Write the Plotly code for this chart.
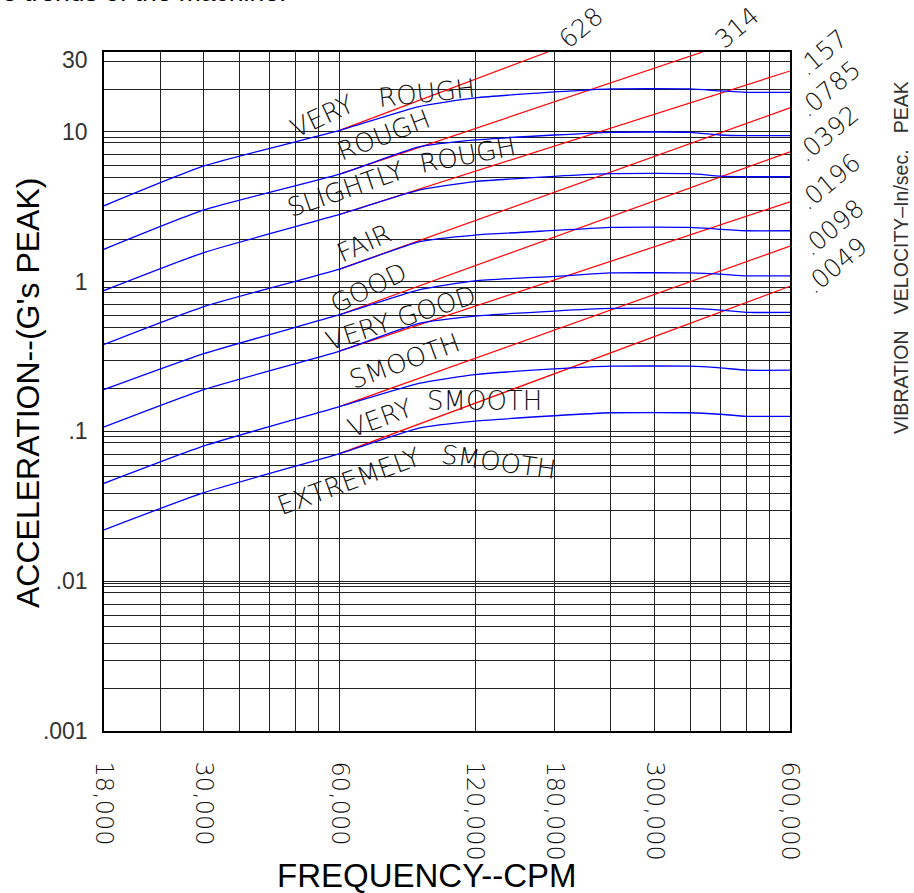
import math
import plotly.graph_objects as go

# ---------------- data ----------------
freq_cpm = [18000, 30000, 60000, 90000, 120000, 180000, 240000, 360000, 420000, 480000, 600000]

bound_very_rough = [3.2, 5.9, 10.2, 14.7, 16.8, 18.4, 19.3, 19.3, 18.7, 18.3, 18.3]
bound_rough = [1.64, 3.0, 5.2, 7.9, 8.8, 9.5, 9.9, 9.9, 9.5, 9.4, 9.4]
bound_slightly_rough = [0.87, 1.56, 2.8, 4.07, 4.64, 5.03, 5.24, 5.24, 5.05, 5.0, 5.0]
bound_fair = [0.38, 0.68, 1.21, 1.84, 2.04, 2.19, 2.3, 2.3, 2.23, 2.18, 2.18]
bound_good = [0.19, 0.33, 0.6, 0.88, 1.01, 1.08, 1.14, 1.14, 1.12, 1.09, 1.09]
bound_very_good = [0.107, 0.19, 0.343, 0.525, 0.588, 0.635, 0.661, 0.661, 0.644, 0.622, 0.622]
bound_smooth = [0.045, 0.08, 0.146, 0.209, 0.239, 0.261, 0.272, 0.272, 0.265, 0.256, 0.256]
bound_very_smooth = [0.022, 0.039, 0.071, 0.105, 0.117, 0.127, 0.133, 0.133, 0.130, 0.126, 0.126]

# constant-velocity (in/sec peak) lines: start point and end point
velocity_labels = [".628", ".314", ".157", ".0785", ".0392", ".0196", ".0098", ".0049"]
vel_start_freq = [60000, 60000, 60000, 60000, 60000, 60000, 60000, 60000]
vel_start_acc = [10.2, 5.2, 2.8, 1.21, 0.6, 0.343, 0.146, 0.071]
vel_end_freq = [173900, 383700, 600000, 600000, 600000, 600000, 600000, 600000]
vel_end_acc = [34.0, 34.0, 25.4, 14.4, 7.34, 3.40, 1.72, 0.93]

# severity zone labels
zone_words = ["VERY", "ROUGH", "ROUGH", "SLIGHTLY", "ROUGH", "FAIR", "GOOD",
              "VERY GOOD", "SMOOTH", "VERY", "SMOOTH", "EXTREMELY", "SMOOTH"]
zone_freq = [55000, 93400, 75300, 61900, 115200, 68100, 69500,
             82100, 83800, 73800, 125800, 63100, 135000]
zone_acc = [12.7, 18.1, 9.49, 4.14, 6.98, 1.80, 0.904,
            0.570, 0.294, 0.1225, 0.159, 0.0465, 0.0623]

# axes
x_tick_vals = [18000, 30000, 60000, 120000, 180000, 300000, 600000]
x_tick_text = ["18,000", "30,000", "60,000", "120,000", "180,000", "300,000", "600,000"]
x_grid_vals = [18000, 24000, 30000, 36000, 42000, 48000, 54000, 60000, 120000,
               180000, 240000, 300000, 360000, 420000, 480000, 540000, 600000]
y_tick_vals = [0.001, 0.01, 0.1, 1, 10, 30]
y_tick_text = [".001", ".01", ".1", "1", "10", "30"]
y_decades = [0.001, 0.01, 0.1, 1, 10]
y_grid_multipliers = [1.92, 2.96, 3.84, 4.96, 5.92, 7.03, 8.41, 9.17]
y_grid_extra = [0.0096, 19.0]
y_top = 34.0

# ---------------- styling ----------------
zone_angle = [-25, -6, -21, -19, -11, -24, -26, -18, -20, -20, 0, -20, 8]
vel_label_dx = [30, 31, 33, 40, 38, 40, 43, 46]
vel_label_dy = [22, 22, 18, 19, 18, 20, 19, 21]
CAD_FONT = dict(family="DejaVu Sans, Lato, sans-serif", size=26, color="#111111", weight=200)
ARIAL = "Liberation Sans, Arial, sans-serif"
NB = "\u00a0"

fig = go.Figure()

for xs0, ys0, xs1, ys1 in zip(vel_start_freq, vel_start_acc, vel_end_freq, vel_end_acc):
    fig.add_trace(go.Scatter(x=[xs0, xs1], y=[ys0, ys1], mode="lines",
                             line=dict(color="#ff0000", width=1.2),
                             hoverinfo="skip", showlegend=False))

for series in [bound_very_rough, bound_rough, bound_slightly_rough, bound_fair,
               bound_good, bound_very_good, bound_smooth, bound_very_smooth]:
    fig.add_trace(go.Scatter(x=freq_cpm, y=series, mode="lines",
                             line=dict(color="#0000ff", width=1.3, shape="spline", smoothing=0.5),
                             hoverinfo="skip", showlegend=False))

y_grid_vals = list(y_decades)
for d in y_decades:
    y_grid_vals += [d * m for m in y_grid_multipliers]
y_grid_vals += y_grid_extra

annotations = []
for w, f, a, ang in zip(zone_words, zone_freq, zone_acc, zone_angle):
    annotations.append(dict(x=math.log10(f), y=math.log10(a), xref="x", yref="y",
                            text=w, showarrow=False, textangle=ang,
                            font=CAD_FONT, xanchor="center", yanchor="middle"))

for lab, f, a, dx, dy in zip(velocity_labels, vel_end_freq, vel_end_acc, vel_label_dx, vel_label_dy):
    annotations.append(dict(x=math.log10(f), y=math.log10(a), xref="x", yref="y",
                            text=lab, showarrow=False, textangle=-40,
                            xshift=dx, yshift=dy,
                            font=dict(CAD_FONT, size=25), xanchor="center", yanchor="middle"))

annotations += [
    dict(x=-0.1108, y=0.4978, xref="paper", yref="paper", text="ACCELERATION--(G's PEAK)",
         textangle=-90, showarrow=False, xanchor="center", yanchor="middle",
         font=dict(family=ARIAL, size=32, color="#000")),
    dict(x=0.4694, y=-0.2135, xref="paper", yref="paper", text="FREQUENCY--CPM",
         showarrow=False, xanchor="center", yanchor="middle",
         font=dict(family=ARIAL, size=33, color="#000")),
    dict(x=1.1618, y=0.698, xref="paper", yref="paper",
         text="VIBRATION" + NB * 3 + "VELOCITY\u2013In/sec." + NB * 3 + "PEAK",
         textangle=-90, showarrow=False, xanchor="center", yanchor="middle",
         borderpad=0,
         font=dict(family=ARIAL, size=19.5, color="#333")),
    dict(x=-0.1516, y=1.0886, xref="paper", yref="paper", text="e trends of the machine.",
         showarrow=False, xanchor="left", yanchor="middle",
         font=dict(family=ARIAL, size=26.5, color="#000")),
]

fig.update_layout(
    width=914, height=893,
    margin=dict(l=104, r=124, t=52, b=162),
    paper_bgcolor="white", plot_bgcolor="white",
    showlegend=False, hovermode=False,
    annotations=annotations,
)

fig.update_xaxes(
    type="log", range=[math.log10(x_grid_vals[0]), math.log10(x_grid_vals[-1])],
    tickmode="array", tickvals=x_tick_vals, ticktext=x_tick_text, tickangle=90,
    ticks="", ticklabelstandoff=24, showgrid=False, zeroline=False,
    showline=True, mirror=True, linecolor="#000", linewidth=1.5,
    tickfont=dict(CAD_FONT, size=24),
    minor=dict(tickmode="array", tickvals=x_grid_vals, showgrid=True,
               gridcolor="#222", gridwidth=1, ticks=""),
)
fig.update_yaxes(
    type="log", range=[math.log10(y_decades[0]), math.log10(y_top)],
    tickmode="array", tickvals=y_tick_vals, ticktext=y_tick_text,
    ticks="", ticklabelstandoff=10, showgrid=False, zeroline=False,
    showline=True, mirror=True, linecolor="#000", linewidth=1.5,
    tickfont=dict(family=ARIAL, size=23, color="#333"),
    minor=dict(tickmode="array", tickvals=y_grid_vals, showgrid=True,
               gridcolor="#222", gridwidth=1, ticks=""),
)

fig.write_html("out.html")
